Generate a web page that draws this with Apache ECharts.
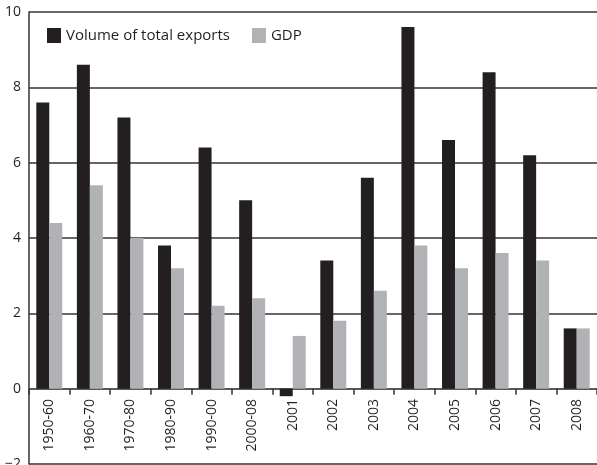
<!DOCTYPE html>
<html>
<head>
<meta charset="utf-8">
<script src="https://cdn.jsdelivr.net/npm/echarts@6/dist/echarts.min.js"></script>
<style>
html, body { margin: 0; padding: 0; background: #fff; }
#chart { width: 597px; height: 465px; }
</style>
</head>
<body>
<div id="chart"></div>
<script>
const categories = ['1950-60', '1960-70', '1970-80', '1980-90', '1990-00', '2000-08',
  '2001', '2002', '2003', '2004', '2005', '2006', '2007', '2008']
const exportsVol = [7.6, 8.6, 7.2, 3.8, 6.4, 5.0, -0.2, 3.4, 5.6, 9.6, 6.6, 8.4, 6.2, 1.6]
const gdp = [4.4, 5.4, 4.0, 3.2, 2.2, 2.4, 1.4, 1.8, 2.6, 3.8, 3.2, 3.6, 3.4, 1.6]

const font = 'Open Sans'
const txt = '#231f20'

const myChart = echarts.init(document.getElementById('chart'))
const option = {
  animation: false,
  textStyle: { fontFamily: font, color: txt },
  grid: { left: 29, right: 0, top: 12, bottom: 1, containLabel: false, outerBoundsMode: 'none' },
  legend: {
    left: 42,
    top: 23,
    itemWidth: 14,
    itemHeight: 15,
    itemGap: 22,
    textStyle: { fontFamily: font, fontSize: 15, color: txt },
    data: [
      { name: 'Volume of total exports', icon: 'rect' },
      { name: 'GDP', icon: 'rect' }
    ]
  },
  xAxis: {
    type: 'category',
    data: categories,
    axisLine: { onZero: true, lineStyle: { color: '#555', width: 1.5 } },
    axisTick: { show: true, length: 6, lineStyle: { color: '#333', width: 1.5 } },
    // labels sit at the grid bottom, pull them up under the zero line
    axisLabel: { rotate: 90, margin: -65, hideOverlap: false, fontFamily: font, fontSize: 14, color: txt }
  },
  yAxis: {
    type: 'value',
    min: -2,
    max: 10,
    interval: 2,
    axisLine: { show: true, lineStyle: { color: '#333', width: 1.5 } },
    axisTick: { show: false },
    axisLabel: {
      margin: 8, fontFamily: font, fontSize: 14, color: txt,
      formatter: (v) => String(v).replace('-', '\u2212')
    },
    splitLine: { lineStyle: { color: '#333', width: 1.5 } }
  },
  series: [
    {
      name: 'Volume of total exports',
      type: 'bar',
      data: exportsVol,
      barGap: '0%',
      barCategoryGap: '36%',
      itemStyle: { color: '#231f20' }
    },
    {
      name: 'GDP',
      type: 'bar',
      data: gdp,
      itemStyle: { color: '#b1b2b5' }
    }
  ]
}
myChart.setOption(option)
</script>
</body>
</html>
